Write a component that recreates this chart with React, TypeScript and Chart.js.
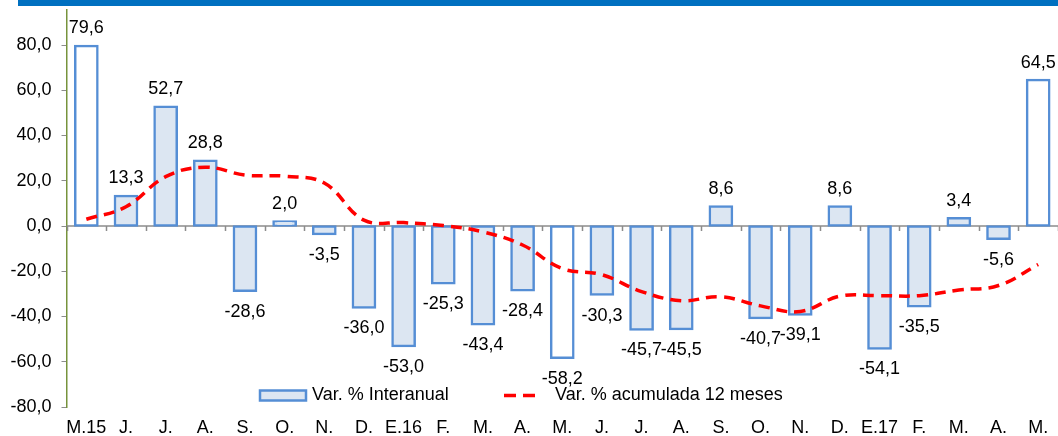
import { useEffect, useRef } from "react"
import { Chart, registerables } from "chart.js"

Chart.register(...registerables)

// ── data ────────────────────────────────────────────────────────────────────
const months = [
  "M.15", "J.", "J.", "A.", "S.", "O.", "N.", "D.", "E.16", "F.", "M.", "A.",
  "M.", "J.", "J.", "A.", "S.", "O.", "N.", "D.", "E.17", "F.", "M.", "A.", "M.",
]
const interanual = [
  79.6, 13.3, 52.7, 28.8, -28.6, 2.0, -3.5, -36.0, -53.0, -25.3, -43.4, -28.4,
  -58.2, -30.3, -45.7, -45.5, 8.6, -40.7, -39.1, 8.6, -54.1, -35.5, 3.4, -5.6, 64.5,
]
const acumulada12 = [
  3.0, 8.5, 21.8, 26.0, 22.5, 22.0, 19.0, 2.6, 1.5, 0.2, -2.6, -8.4,
  -18.8, -21.5, -29.0, -33.0, -31.3, -35.3, -37.8, -31.0, -30.8, -30.8, -28.3, -26.3, -17.0,
]
const yTicks = [-80, -60, -40, -20, 0, 20, 40, 60, 80]
const hollowBars = [0, 12, 24] // May of each year drawn unfilled

const seriesNames = ["Var. % Interanual", "Var. % acumulada 12 meses"]

const FONT = "'Liberation Sans', Arial, sans-serif"
const BAR_BORDER = "#558ED5"
const BAR_FILL = "#DCE6F2"
const LINE_RED = "#FF0000"
const AXIS_GREEN = "#77933C"
const AXIS_GREY = "#8C8C8C"

const fmt = (v: number) => v.toFixed(1).replace(".", ",")

export default function App() {
  const canvasRef = useRef<HTMLCanvasElement>(null)
  const chartRef = useRef<Chart | null>(null)

  useEffect(() => {
    if (!canvasRef.current) return
    chartRef.current?.destroy()

    // zero axis with category-boundary tick marks
    const zeroAxis = {
      id: "zeroAxis",
      beforeDatasetsDraw(chart: Chart) {
        const { ctx, chartArea } = chart
        const x = chart.scales.x
        const y0 = chart.scales.y.getPixelForValue(0)
        const w = x.width / months.length
        ctx.save()
        ctx.strokeStyle = AXIS_GREY
        ctx.lineWidth = 1.5
        ctx.beginPath()
        ctx.moveTo(chartArea.left, y0)
        ctx.lineTo(chartArea.right, y0)
        for (let i = 0; i <= months.length; i++) {
          const px = Math.round(x.left + i * w) + 0.5
          ctx.moveTo(px, y0)
          ctx.lineTo(px, y0 + 5)
        }
        ctx.stroke()
        ctx.restore()
      },
    }

    // value labels above / below the bars
    const barLabels = {
      id: "barLabels",
      afterDatasetsDraw(chart: Chart) {
        const { ctx } = chart
        const meta = chart.getDatasetMeta(1)
        ctx.save()
        ctx.font = `18px ${FONT}`
        ctx.fillStyle = "#000"
        ctx.textAlign = "center"
        ctx.textBaseline = "middle"
        meta.data.forEach((el: any, i) => {
          const v = interanual[i]
          const y = v >= 0 ? el.y - 17.5 : el.y + 21
          ctx.fillText(fmt(v), el.x, y)
        })
        ctx.restore()
      },
    }

    // legend floating inside the plot area
    const innerLegend = {
      id: "innerLegend",
      afterDatasetsDraw(chart: Chart) {
        const { ctx } = chart
        const cy = 395.5
        ctx.save()
        ctx.fillStyle = BAR_FILL
        ctx.strokeStyle = BAR_BORDER
        ctx.lineWidth = 2.5
        ctx.fillRect(260, cy - 5, 46, 10)
        ctx.strokeRect(260, cy - 5, 46, 10)

        ctx.strokeStyle = LINE_RED
        ctx.lineWidth = 3.5
        ctx.setLineDash([12, 7])
        ctx.beginPath()
        ctx.moveTo(504, cy)
        ctx.lineTo(541, cy)
        ctx.stroke()
        ctx.setLineDash([])

        ctx.font = `18px ${FONT}`
        ctx.fillStyle = "#000"
        ctx.textAlign = "left"
        ctx.textBaseline = "middle"
        ctx.fillText(seriesNames[0], 312, cy)
        ctx.fillText(seriesNames[1], 555, cy)
        ctx.restore()
      },
    }

    chartRef.current = new Chart(canvasRef.current, {
      type: "bar",
      data: {
        labels: months,
        datasets: [
          {
            type: "line",
            label: seriesNames[1],
            data: acumulada12,
            borderColor: LINE_RED,
            borderWidth: 3.5,
            borderDash: [11, 7],
            pointRadius: 0,
            tension: 0.4,
            fill: false,
            order: 0,
          },
          {
            type: "bar",
            label: seriesNames[0],
            data: interanual,
            backgroundColor: interanual.map((_, i) => (hollowBars.includes(i) ? "#FFFFFF" : BAR_FILL)),
            borderColor: BAR_BORDER,
            borderWidth: 2.5,
            borderSkipped: false,
            inflateAmount: 1.25,
            categoryPercentage: 1,
            barPercentage: 0.56,
            order: 1,
          },
        ],
      },
      options: {
        animation: false,
        responsive: false,
        maintainAspectRatio: false,
        layout: { padding: { top: 10, right: 0, left: 0, bottom: 0 } },
        plugins: {
          legend: { display: false },
          tooltip: { enabled: false },
        },
        scales: {
          x: {
            offset: true,
            grid: { display: false, drawTicks: false },
            border: { display: false },
            ticks: {
              color: "#000",
              font: { family: FONT, size: 18 },
              padding: 10,
              maxRotation: 0,
              autoSkip: false,
            },
            afterFit: (s: any) => { s.height = 29; s.paddingLeft = 0; s.paddingRight = 0 },
          },
          y: {
            min: -80,
            max: 95.47,
            afterBuildTicks: (s: any) => { s.ticks = yTicks.map(v => ({ value: v })) },
            grid: { drawOnChartArea: false, drawTicks: true, tickLength: 5, color: AXIS_GREY },
            border: { color: AXIS_GREEN, width: 1.5 },
            ticks: {
              color: "#000",
              font: { family: FONT, size: 18 },
              padding: 10,
              callback: (v: any) => fmt(Number(v)),
            },
            afterFit: (s: any) => { s.width = 66.5; s.paddingTop = 0; s.paddingBottom = 0 },
          },
        },
      },
      plugins: [zeroAxis, barLabels, innerLegend],
    })

    return () => {
      chartRef.current?.destroy()
      chartRef.current = null
    }
  }, [])

  return (
    <div style={{ position: "absolute", left: 0, top: 0, width: 1058, height: 436, background: "#fff" }}>
      <div style={{ position: "absolute", left: 18, top: 0, width: 1040, height: 6, background: "#0070C0" }} />
      <canvas ref={canvasRef} width={1058} height={436} style={{ display: "block", width: 1058, height: 436 }} />
    </div>
  )
}
